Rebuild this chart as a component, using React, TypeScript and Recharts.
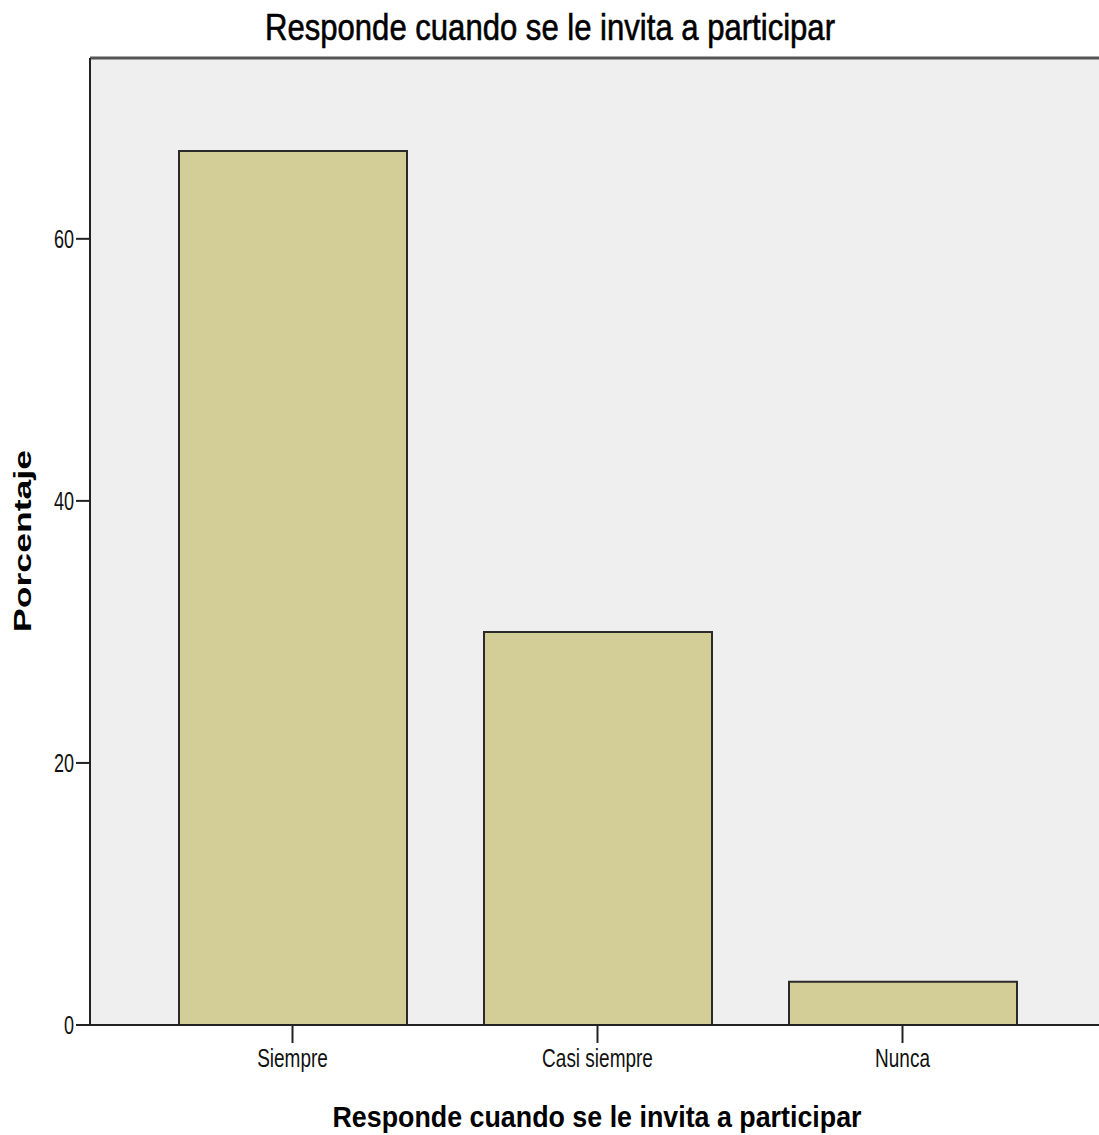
import React from "react";
import { BarChart, Bar, XAxis, YAxis, CartesianGrid, ReferenceLine, Customized } from "recharts";

const categories = ["Siempre", "Casi siempre", "Nunca"];
const percentages = [66.7, 30.0, 3.3];
const yTicks = [0, 20, 40, 60];
const yMax = 73.8;
const chartTitle = "Responde cuando se le invita a participar";
const xAxisTitle = "Responde cuando se le invita a participar";
const yAxisTitle = "Porcentaje";

const data = categories.map((c, i) => ({ category: c, value: percentages[i] }));

const SANS = "'Liberation Sans', Arial, sans-serif";

const XTick = (props: any) => {
  const { x, y, payload } = props;
  return (
    <g transform={`translate(${x},${y + 22}) scale(0.76,1)`}>
      <text x={0} y={0} textAnchor="middle" fontFamily={SANS} fontSize={25} fill="#111">
        {payload.value}
      </text>
    </g>
  );
};

const YTick = (props: any) => {
  const { x, y, payload } = props;
  return (
    <g transform={`translate(${x},${y + 9}) scale(0.72,1)`}>
      <text x={0} y={0} textAnchor="end" fontFamily={SANS} fontSize={25} fill="#111">
        {payload.value}
      </text>
    </g>
  );
};

const Titles = () => (
  <g>
    <text x={550} y={40} textAnchor="middle" fontFamily={SANS} fontSize={37} fill="#000" stroke="#000" strokeWidth={0.6} textLength={570} lengthAdjust="spacingAndGlyphs">
      {chartTitle}
    </text>
    <text x={597} y={1127} textAnchor="middle" fontFamily={SANS} fontWeight="bold" fontSize={30} fill="#000" textLength={529} lengthAdjust="spacingAndGlyphs">
      {xAxisTitle}
    </text>
    <text transform="translate(31,541) rotate(-90)" x={0} y={0} textAnchor="middle" fontFamily={SANS} fontWeight="bold" fontSize={23} fill="#000" textLength={182} lengthAdjust="spacingAndGlyphs">
      {yAxisTitle}
    </text>
  </g>
);

export default function App() {
  return (
    <div style={{ position: "absolute", left: 0, top: 0, width: 1099, height: 1135, background: "#fff" }}>
      <BarChart width={1099} height={1135} data={data} margin={{ top: 58, right: 0, bottom: 0, left: 0 }} barSize={228}>
        <CartesianGrid horizontal={false} vertical={false} fill="#efefef" />
        <XAxis
          dataKey="category"
          height={110}
          padding={{ left: 50, right: 44 }}
          axisLine={{ stroke: "#222", strokeWidth: 2 }}
          tickLine={{ stroke: "#222", strokeWidth: 2 }}
          tickSize={18}
          tick={<XTick />}
        />
        <YAxis
          width={90}
          domain={[0, yMax]}
          ticks={yTicks}
          allowDataOverflow
          axisLine={{ stroke: "#222", strokeWidth: 2 }}
          tickLine={{ stroke: "#222", strokeWidth: 2 }}
          tickSize={14}
          tick={<YTick />}
        />
        <ReferenceLine y={yMax} stroke="#555" strokeWidth={3} ifOverflow="visible" />
        <Bar dataKey="value" fill="#d3ce98" stroke="#2a2a2a" strokeWidth={2} isAnimationActive={false} />
        <Customized component={Titles} />
      </BarChart>
    </div>
  );
}
